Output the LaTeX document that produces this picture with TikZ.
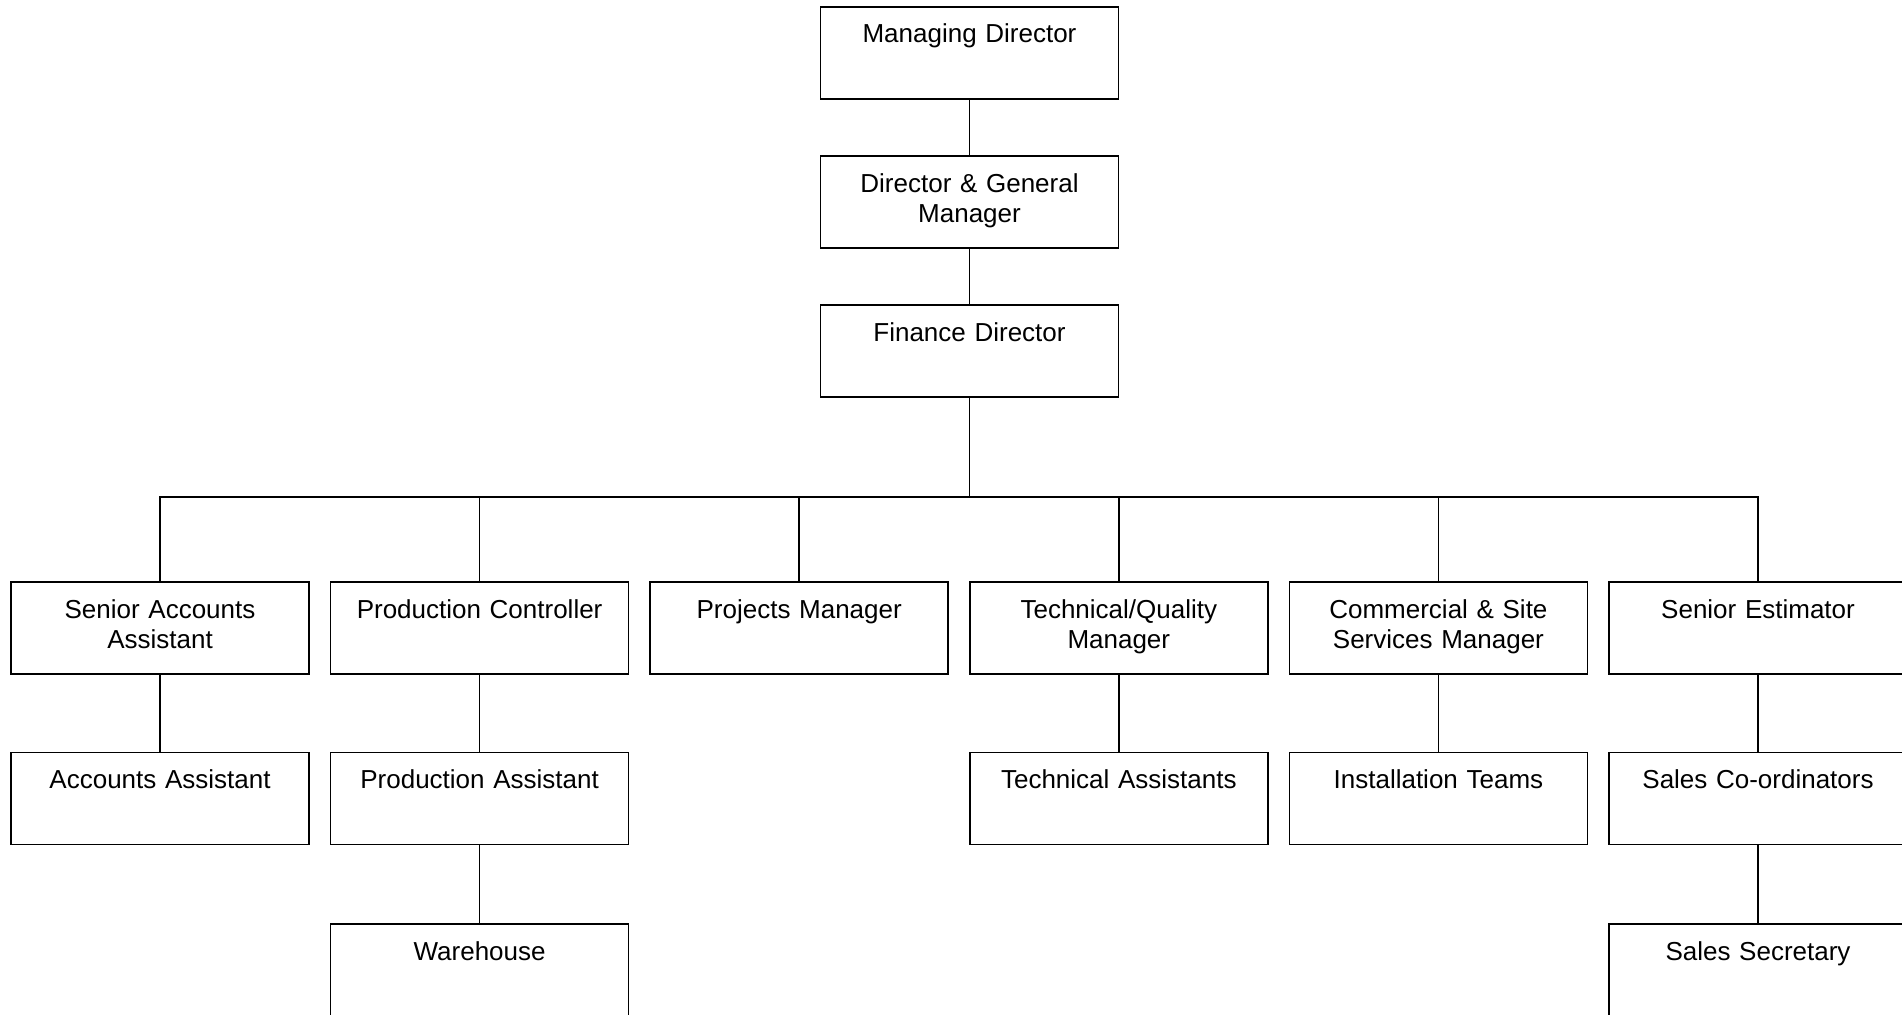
\documentclass[tikz,border=0pt]{standalone}
\usepackage{fontspec}
\setmainfont{Liberation Sans}
\usetikzlibrary{positioning}

\begin{document}
\begin{tikzpicture}[
    x=1pt, y=1pt,
    node distance=57pt and 21.6pt,
    post/.style={rectangle, draw, line width=1.6pt, outer sep=0pt,
                 minimum width=298pt, minimum height=92pt,
                 text width=280pt, align=center, inner ysep=0pt,
                 text height=36pt, text depth=56pt, font=\fontsize{26}{30}\selectfont},
    link/.style={line width=1.6pt}
]

\useasboundingbox[fill=white] (0,0) rectangle (1902,-1014);

% top of the chart
\node[post] (md) at (969.5,-53) {Managing Director};
\node[post, below=of md] (dgm) {Director \& General\\Manager};
\node[post, below=of dgm] (fd) {Finance Director};

% heads of department
\node[post] (saa) at (160,-628) {Senior Accounts\\Assistant};
\node[post, right=of saa] (pc) {Production Controller};
\node[post, right=of pc] (pm) {Projects Manager};
\node[post, right=of pm] (tqm) {Technical/Quality\\Manager};
\node[post, right=of tqm] (cssm) {Commercial \& Site\\Services Manager};
\node[post, right=of cssm] (se) {Senior Estimator};

% staff
\node[post, below=78.5pt of saa] (aa) {Accounts Assistant};
\node[post, below=78.5pt of pc] (pa) {Production Assistant};
\node[post, below=79.5pt of pa] (wh) {Warehouse};
\node[post, below=78.5pt of tqm] (ta) {Technical Assistants};
\node[post, below=78.5pt of cssm] (it) {Installation Teams};
\node[post, below=78.5pt of se] (sc) {Sales Co-ordinators};
\node[post, below=79.5pt of sc] (ss) {Sales Secretary};

\draw[link] (md) -- (dgm);
\draw[link] (dgm) -- (fd);

\coordinate (bus) at (969.5,-497);
\draw[link] (fd.south) -- (bus);
\foreach \n in {saa,pc,pm,tqm,cssm,se}
    \draw[link] (bus) -| (\n.north);

\draw[link] (saa) -- (aa);
\draw[link] (pc) -- (pa);
\draw[link] (pa) -- (wh);
\draw[link] (tqm) -- (ta);
\draw[link] (cssm) -- (it);
\draw[link] (se) -- (sc);
\draw[link] (sc) -- (ss);

\end{tikzpicture}
\end{document}
